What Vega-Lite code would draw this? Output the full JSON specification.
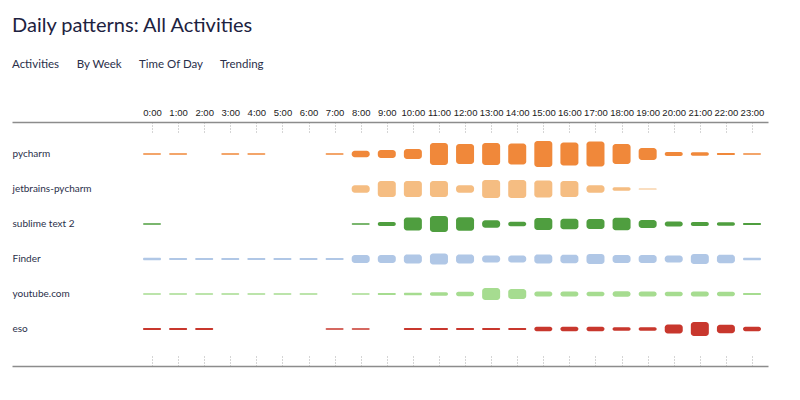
{
  "$schema": "https://vega.github.io/schema/vega-lite/v6.json",
  "width": 756,
  "height": 244,
  "autosize": {"type": "none"},
  "padding": {"left": 12, "top": 122, "right": 32, "bottom": 34},
  "background": "white",
  "title": {
    "text": "Daily patterns: All Activities",
    "subtitle": "Activities\u00a0\u00a0\u00a0\u00a0\u00a0\u00a0By Week\u00a0\u00a0\u00a0\u00a0\u00a0\u00a0Time Of Day\u00a0\u00a0\u00a0\u00a0\u00a0\u00a0Trending",
    "anchor": "start",
    "frame": "group",
    "font": "Lato",
    "fontSize": 20,
    "fontWeight": "normal",
    "color": "#1d2240",
    "subtitleFont": "Lato",
    "subtitleFontSize": 11.5,
    "subtitleColor": "#2a2f4a",
    "subtitlePadding": 23,
    "offset": 37
  },
  "data": {
    "values": [
      {"activity": "pycharm", "hour": 0, "v": 1.5},
      {"activity": "pycharm", "hour": 1, "v": 1.5},
      {"activity": "pycharm", "hour": 3, "v": 1.5},
      {"activity": "pycharm", "hour": 4, "v": 1.5},
      {"activity": "pycharm", "hour": 7, "v": 1.5},
      {"activity": "pycharm", "hour": 8, "v": 6.5},
      {"activity": "pycharm", "hour": 9, "v": 8},
      {"activity": "pycharm", "hour": 10, "v": 10},
      {"activity": "pycharm", "hour": 11, "v": 22},
      {"activity": "pycharm", "hour": 12, "v": 20},
      {"activity": "pycharm", "hour": 13, "v": 22},
      {"activity": "pycharm", "hour": 14, "v": 21},
      {"activity": "pycharm", "hour": 15, "v": 26},
      {"activity": "pycharm", "hour": 16, "v": 23},
      {"activity": "pycharm", "hour": 17, "v": 25},
      {"activity": "pycharm", "hour": 18, "v": 20},
      {"activity": "pycharm", "hour": 19, "v": 12},
      {"activity": "pycharm", "hour": 20, "v": 4},
      {"activity": "pycharm", "hour": 21, "v": 3.5},
      {"activity": "pycharm", "hour": 22, "v": 2},
      {"activity": "pycharm", "hour": 23, "v": 1.5},

      {"activity": "jetbrains-pycharm", "hour": 8, "v": 7.5},
      {"activity": "jetbrains-pycharm", "hour": 9, "v": 16},
      {"activity": "jetbrains-pycharm", "hour": 10, "v": 16},
      {"activity": "jetbrains-pycharm", "hour": 11, "v": 16},
      {"activity": "jetbrains-pycharm", "hour": 12, "v": 7.5},
      {"activity": "jetbrains-pycharm", "hour": 13, "v": 18},
      {"activity": "jetbrains-pycharm", "hour": 14, "v": 18},
      {"activity": "jetbrains-pycharm", "hour": 15, "v": 17},
      {"activity": "jetbrains-pycharm", "hour": 16, "v": 16},
      {"activity": "jetbrains-pycharm", "hour": 17, "v": 7.5},
      {"activity": "jetbrains-pycharm", "hour": 18, "v": 3.5},
      {"activity": "jetbrains-pycharm", "hour": 19, "v": 1.2},

      {"activity": "sublime text 2", "hour": 0, "v": 1.5},
      {"activity": "sublime text 2", "hour": 8, "v": 1.5},
      {"activity": "sublime text 2", "hour": 9, "v": 4},
      {"activity": "sublime text 2", "hour": 10, "v": 13},
      {"activity": "sublime text 2", "hour": 11, "v": 16},
      {"activity": "sublime text 2", "hour": 12, "v": 13.5},
      {"activity": "sublime text 2", "hour": 13, "v": 7.5},
      {"activity": "sublime text 2", "hour": 14, "v": 4.5},
      {"activity": "sublime text 2", "hour": 15, "v": 12},
      {"activity": "sublime text 2", "hour": 16, "v": 10.5},
      {"activity": "sublime text 2", "hour": 17, "v": 10},
      {"activity": "sublime text 2", "hour": 18, "v": 12.5},
      {"activity": "sublime text 2", "hour": 19, "v": 8},
      {"activity": "sublime text 2", "hour": 20, "v": 5},
      {"activity": "sublime text 2", "hour": 21, "v": 4},
      {"activity": "sublime text 2", "hour": 22, "v": 3.5},
      {"activity": "sublime text 2", "hour": 23, "v": 2},

      {"activity": "Finder", "hour": 0, "v": 2.5},
      {"activity": "Finder", "hour": 1, "v": 2},
      {"activity": "Finder", "hour": 2, "v": 2},
      {"activity": "Finder", "hour": 3, "v": 2},
      {"activity": "Finder", "hour": 4, "v": 2},
      {"activity": "Finder", "hour": 5, "v": 2},
      {"activity": "Finder", "hour": 6, "v": 2},
      {"activity": "Finder", "hour": 7, "v": 2},
      {"activity": "Finder", "hour": 8, "v": 8},
      {"activity": "Finder", "hour": 9, "v": 8},
      {"activity": "Finder", "hour": 10, "v": 9},
      {"activity": "Finder", "hour": 11, "v": 11},
      {"activity": "Finder", "hour": 12, "v": 9},
      {"activity": "Finder", "hour": 13, "v": 7},
      {"activity": "Finder", "hour": 14, "v": 7},
      {"activity": "Finder", "hour": 15, "v": 9},
      {"activity": "Finder", "hour": 16, "v": 8.5},
      {"activity": "Finder", "hour": 17, "v": 10},
      {"activity": "Finder", "hour": 18, "v": 8},
      {"activity": "Finder", "hour": 19, "v": 8},
      {"activity": "Finder", "hour": 20, "v": 7},
      {"activity": "Finder", "hour": 21, "v": 10},
      {"activity": "Finder", "hour": 22, "v": 8.5},
      {"activity": "Finder", "hour": 23, "v": 2.5},

      {"activity": "youtube.com", "hour": 0, "v": 1.5},
      {"activity": "youtube.com", "hour": 1, "v": 1.5},
      {"activity": "youtube.com", "hour": 2, "v": 1.5},
      {"activity": "youtube.com", "hour": 3, "v": 1.5},
      {"activity": "youtube.com", "hour": 4, "v": 1.5},
      {"activity": "youtube.com", "hour": 5, "v": 1.5},
      {"activity": "youtube.com", "hour": 6, "v": 1.5},
      {"activity": "youtube.com", "hour": 8, "v": 1.5},
      {"activity": "youtube.com", "hour": 9, "v": 2},
      {"activity": "youtube.com", "hour": 10, "v": 2.5},
      {"activity": "youtube.com", "hour": 11, "v": 3.5},
      {"activity": "youtube.com", "hour": 12, "v": 4.5},
      {"activity": "youtube.com", "hour": 13, "v": 12},
      {"activity": "youtube.com", "hour": 14, "v": 10},
      {"activity": "youtube.com", "hour": 15, "v": 5},
      {"activity": "youtube.com", "hour": 16, "v": 5},
      {"activity": "youtube.com", "hour": 17, "v": 4.5},
      {"activity": "youtube.com", "hour": 18, "v": 5.5},
      {"activity": "youtube.com", "hour": 19, "v": 5},
      {"activity": "youtube.com", "hour": 20, "v": 4.5},
      {"activity": "youtube.com", "hour": 21, "v": 5},
      {"activity": "youtube.com", "hour": 22, "v": 4.5},
      {"activity": "youtube.com", "hour": 23, "v": 2},

      {"activity": "eso", "hour": 0, "v": 2},
      {"activity": "eso", "hour": 1, "v": 2},
      {"activity": "eso", "hour": 2, "v": 2},
      {"activity": "eso", "hour": 7, "v": 1.5},
      {"activity": "eso", "hour": 8, "v": 1.5},
      {"activity": "eso", "hour": 10, "v": 2},
      {"activity": "eso", "hour": 11, "v": 2},
      {"activity": "eso", "hour": 12, "v": 2},
      {"activity": "eso", "hour": 13, "v": 2},
      {"activity": "eso", "hour": 14, "v": 2},
      {"activity": "eso", "hour": 15, "v": 4.5},
      {"activity": "eso", "hour": 16, "v": 4.5},
      {"activity": "eso", "hour": 17, "v": 4.5},
      {"activity": "eso", "hour": 18, "v": 3.5},
      {"activity": "eso", "hour": 19, "v": 3.5},
      {"activity": "eso", "hour": 20, "v": 9},
      {"activity": "eso", "hour": 21, "v": 14},
      {"activity": "eso", "hour": 22, "v": 8.5},
      {"activity": "eso", "hour": 23, "v": 4.5}
    ]
  },
  "layer": [
    {
      "mark": {
        "type": "tick",
        "orient": "vertical",
        "thickness": 18,
        "cornerRadius": 3,
        "strokeWidth": 1,
        "strokeOpacity": 0.35,
        "opacity": 1
      },
      "encoding": {
        "x": {
          "field": "hour",
          "type": "quantitative",
          "scale": {"domain": [-5.367, 23.613], "nice": false, "zero": false},
          "axis": {
            "orient": "top",
            "title": null,
            "values": [0,1,2,3,4,5,6,7,8,9,10,11,12,13,14,15,16,17,18,19,20,21,22,23],
            "labelExpr": "datum.value + ':00'",
            "labelAngle": 0,
            "labelFlush": false,
            "labelOverlap": false,
            "labelFont": "Liberation Sans",
            "labelFontSize": 9.5,
            "labelColor": "#222222",
            "labelPadding": 15,
            "grid": false,
            "domainColor": "#8c8c8c",
            "domainWidth": 1.5,
            "tickColor": "#aaaaaa",
            "tickDash": [1, 2],
            "tickSize": -10,
            "tickWidth": 1
          }
        },
        "y": {
          "field": "activity",
          "type": "nominal",
          "sort": ["pycharm", "jetbrains-pycharm", "sublime text 2", "Finder", "youtube.com", "eso"],
          "scale": {"type": "band", "range": [14.5, 224.5], "paddingInner": 0, "paddingOuter": 0},
          "axis": {
            "title": null,
            "orient": "left",
            "domain": false,
            "ticks": false,
            "tickSize": 0,
            "labelAlign": "left",
            "labelPadding": 0,
            "labelFont": "Lato",
            "labelFontSize": 10,
            "labelColor": "#2a2f4a"
          }
        },
        "size": {
          "field": "v",
          "type": "quantitative",
          "scale": {"domain": [0, 30], "range": [0, 30]},
          "legend": null
        },
        "color": {
          "field": "activity",
          "type": "nominal",
          "scale": {
            "domain": ["pycharm", "jetbrains-pycharm", "sublime text 2", "Finder", "youtube.com", "eso"],
            "range": ["#f0883a", "#f5bd82", "#4f9e3f", "#b0c7e6", "#a6dc90", "#c8372d"]
          },
          "legend": null
        }
      }
    },
    {
      "mark": {"type": "tick", "orient": "vertical", "opacity": 0},
      "encoding": {
        "x": {
          "field": "hour",
          "type": "quantitative",
          "axis": {
            "orient": "bottom",
            "title": null,
            "labels": false,
            "grid": false,
            "values": [0,1,2,3,4,5,6,7,8,9,10,11,12,13,14,15,16,17,18,19,20,21,22,23],
            "domainColor": "#8c8c8c",
            "domainWidth": 1.5,
            "tickColor": "#aaaaaa",
            "tickDash": [1, 2],
            "tickSize": -10,
            "tickWidth": 1
          }
        }
      }
    }
  ],
  "resolve": {"axis": {"x": "independent"}},
  "config": {
    "view": {"stroke": null},
    "font": "Lato"
  }
}
